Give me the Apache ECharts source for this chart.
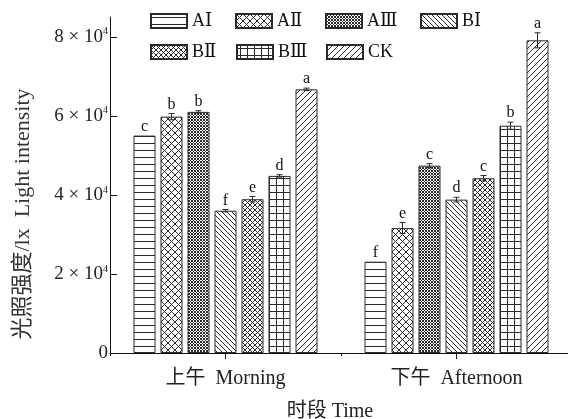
<!DOCTYPE html>
<html><head><meta charset="utf-8">
<script src="https://cdn.jsdelivr.net/npm/echarts@6/dist/echarts.min.js"></script>
<style>html,body{margin:0;padding:0;background:#fff}#c{width:568px;height:419px}</style>
</head><body><div id="c"></div>
<script>
// ---- data ----
const categories = ['上午  Morning', '下午  Afternoon'];
const seriesNames = ['AⅠ', 'AⅡ', 'AⅢ', 'BⅠ', 'BⅡ', 'BⅢ', 'CK'];
const valuesAI   = [55000, 23100];
const valuesAII  = [59800, 31600];
const valuesAIII = [61000, 47400];
const valuesBI   = [36000, 38800];
const valuesBII  = [38900, 44200];
const valuesBIII = [44800, 57500];
const valuesCK   = [66700, 79100];
const errAI   = [0, 0];
const errAII  = [800, 1400];
const errAIII = [300, 500];
const errBI   = [300, 600];
const errBII  = [700, 700];
const errBIII = [300, 900];
const errCK   = [300, 1900];
const lettersMorning   = ['c', 'b', 'b', 'f', 'e', 'd', 'a'];
const lettersAfternoon = ['f', 'e', 'c', 'd', 'c', 'b', 'a'];
const yTicks = [0, 20000, 40000, 60000, 80000];

const allValues = [valuesAI, valuesAII, valuesAIII, valuesBI, valuesBII, valuesBIII, valuesCK];
const allErrs = [errAI, errAII, errAIII, errBI, errBII, errBIII, errCK];
const allLetters = [lettersMorning, lettersAfternoon];

// ---- patterns ----
const INK = '#2a2a2a';
function pattern(type, s) {
  const c = document.createElement('canvas');
  c.width = s; c.height = s;
  const g = c.getContext('2d');
  g.fillStyle = '#fff'; g.fillRect(0, 0, s, s);
  g.strokeStyle = INK; g.lineWidth = 1;
  const line = (x1, y1, x2, y2) => { g.beginPath(); g.moveTo(x1, y1); g.lineTo(x2, y2); g.stroke(); };
  const back = () => { line(-1, -1, s + 1, s + 1); line(s - 1, -1, s + 1, 1); line(-1, s - 1, 1, s + 1); };
  const fwd = () => { line(-1, s + 1, s + 1, -1); line(-1, 1, 1, -1); line(s - 1, s + 1, s + 1, s - 1); };
  if (type === 'h') { line(0, s / 2, s, s / 2); }
  if (type === 'grid') { line(0, s / 2, s, s / 2); line(s / 2, 0, s / 2, s); }
  if (type === 'back') back();
  if (type === 'fwd') fwd();
  if (type === 'cross') { back(); fwd(); }
  return { image: c, repeat: 'repeat' };
}
const fills = [
  pattern('h', 7), pattern('cross', 7), pattern('cross', 3),
  pattern('back', 5), pattern('cross', 5), pattern('grid', 7), pattern('fwd', 6)
];

const SERIF = "'Liberation Serif', 'DejaVu Serif', 'Noto Sans CJK SC', serif";
const BW = 22, GAP = 5, N = seriesNames.length;
function offsetOf(i) { const total = N * BW + (N - 1) * GAP; return -total / 2 + BW / 2 + i * (BW + GAP); }

const barSeries = seriesNames.map((name, i) => ({
  name, type: 'bar', barWidth: BW, barGap: (GAP / BW * 100) + '%',
  data: allValues[i],
  itemStyle: { color: fills[i], borderColor: INK, borderWidth: 1 },
  emphasis: { disabled: true }
}));

const errData = [];
const errLetters = [];
seriesNames.forEach((n, i) => {
  categories.forEach((c, k) => {
    errData.push([k, allValues[i][k], allErrs[i][k], i]);
    errLetters.push(allLetters[k][i]);
  });
});

const errSeries = {
  type: 'custom', z: 5, silent: true,
  encode: { x: 0, y: 1 },
  data: errData,
  renderItem(params, api) {
    const k = api.value(0), v = api.value(1), e = api.value(2), si = api.value(3);
    const x = api.coord([k, v])[0] + offsetOf(si);
    const yt = api.coord([k, v + e])[1];
    const yb = api.coord([k, v - e])[1];
    const st = { stroke: INK, lineWidth: 1 };
    const ch = [];
    if (e > 0) {
      ch.push({ type: 'line', shape: { x1: x, y1: yt, x2: x, y2: yb }, style: st });
      ch.push({ type: 'line', shape: { x1: x - 3, y1: yt, x2: x + 3, y2: yt }, style: st });
      ch.push({ type: 'line', shape: { x1: x - 3, y1: yb, x2: x + 3, y2: yb }, style: st });
    }
    ch.push({ type: 'text', style: { text: errLetters[params.dataIndex], x: x, y: yt - 1,
      align: 'center', verticalAlign: 'bottom', fontSize: 16, fontFamily: SERIF, fill: '#111' } });
    return { type: 'group', children: ch };
  }
};

const legendPos = [[150, 12], [235, 12], [325, 12], [420, 12], [150, 43], [236, 43], [326, 43]];
const legends = seriesNames.map((n, i) => ({
  data: [n], left: legendPos[i][0], top: legendPos[i][1], padding: 0,
  itemWidth: 36, itemHeight: 14, icon: 'rect', selectedMode: false,
  textStyle: { fontSize: 18, fontFamily: SERIF, color: '#111' }
}));

const chart = echarts.init(document.getElementById('c'), null, { renderer: 'canvas' });
chart.setOption({
  animation: false,
  backgroundColor: '#fff',
  legend: legends,
  grid: { left: 110, top: 17, width: 462, height: 336, outerBoundsMode: 'none', containLabel: false },
  xAxis: [{
    type: 'category', data: categories,
    axisLine: { lineStyle: { color: '#111', width: 1 } },
    axisTick: { show: true, alignWithLabel: false, length: 3, lineStyle: { color: '#111' } },
    axisLabel: { fontSize: 20, fontFamily: SERIF, color: '#222', margin: 16 },
    name: '时段 Time', nameLocation: 'middle', nameGap: 49,
    nameTextStyle: { fontSize: 20, fontFamily: SERIF, color: '#222', padding: [0, 22, 0, 0] }
  }, {
    type: 'category', data: categories, position: 'bottom',
    axisLine: { show: false },
    axisTick: { show: true, alignWithLabel: true, length: 6, lineStyle: { color: '#111' } },
    axisLabel: { show: false }
  }],
  yAxis: {
    type: 'value', min: 0, max: 85000,
    axisLine: { show: true, lineStyle: { color: '#111', width: 1 } },
    axisTick: { show: true, inside: true, length: 7, customValues: yTicks, lineStyle: { color: '#111' } },
    splitLine: { show: false },
    axisLabel: {
      customValues: yTicks, margin: 2,
      formatter: v => v === 0 ? '{n|0}' : '{n|' + (v / 10000) + ' × 10}{s|4}',
      rich: {
        n: { fontSize: 19, fontFamily: SERIF, color: '#222' },
        s: { fontSize: 10, fontFamily: SERIF, color: '#222', padding: [0, 0, 10, 0] }
      }
    },
    name: '光照强度/lx  Light intensity', nameLocation: 'middle', nameGap: 76,
    nameTextStyle: { fontSize: 22, fontFamily: SERIF, color: '#333', padding: [0, 58, 0, 0] }
  },
  series: [...barSeries, errSeries]
});
</script></body></html>
